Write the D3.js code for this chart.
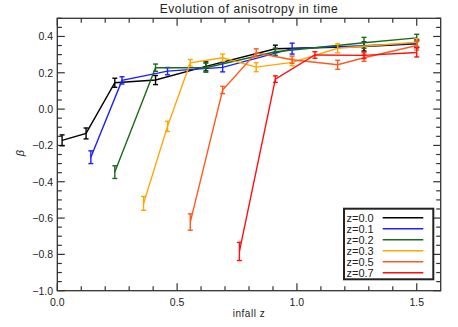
<!DOCTYPE html>
<html>
<head>
<meta charset="utf-8">
<script src="https://cdn.jsdelivr.net/npm/d3@7"></script>
<style>
  body { margin: 0; background: #fff; }
  svg { display: block; }
  text { font-family: "Liberation Sans", Arial, sans-serif; fill: #222; }
</style>
</head>
<body>
<script>
// infall z values, beta and error for each observed redshift
var z00_x = [0.02, 0.12, 0.24, 0.41, 0.62, 0.91, 1.28, 1.50];
var z00_y = [-0.172, -0.134, 0.145, 0.160, 0.235, 0.332, 0.345, 0.360];
var z00_e = [0.030, 0.030, 0.025, 0.025, 0.025, 0.020, 0.025, 0.020];

var z01_x = [0.14, 0.27, 0.46, 0.69, 0.98, 1.50];
var z01_y = [-0.265, 0.158, 0.209, 0.230, 0.333, 0.362];
var z01_e = [0.035, 0.020, 0.020, 0.025, 0.030, 0.020];

var z02_x = [0.24, 0.41, 0.62, 0.91, 1.28, 1.50];
var z02_y = [-0.347, 0.228, 0.228, 0.316, 0.365, 0.392];
var z02_e = [0.035, 0.020, 0.025, 0.020, 0.030, 0.020];

var z03_x = [0.36, 0.46, 0.555, 0.69, 0.83, 0.98, 1.17, 1.50];
var z03_y = [-0.519, -0.095, 0.255, 0.283, 0.231, 0.257, 0.335, 0.368];
var z03_e = [0.038, 0.028, 0.018, 0.020, 0.025, 0.018, 0.025, 0.020];

var z05_x = [0.555, 0.69, 0.83, 0.98, 1.17, 1.28, 1.50];
var z05_y = [-0.622, 0.105, 0.310, 0.272, 0.244, 0.283, 0.350];
var z05_e = [0.045, 0.020, 0.022, 0.020, 0.025, 0.020, 0.025];

var z07_x = [0.76, 0.91, 1.075, 1.28, 1.50];
var z07_y = [-0.784, 0.165, 0.298, 0.296, 0.312];
var z07_e = [0.050, 0.018, 0.018, 0.018, 0.025];

var labels = ["z=0.0", "z=0.1", "z=0.2", "z=0.3", "z=0.5", "z=0.7"];
var colors = ["#000000", "#1e1eff", "#1a6b1a", "#ffa500", "#ff5a1e", "#ff1010"];

var xTicks = [0.0, 0.5, 1.0, 1.5];
var yTicks = [-1.0, -0.8, -0.6, -0.4, -0.2, 0.0, 0.2, 0.4];

(function(){

var series = [
  {xs: z00_x, ys: z00_y, es: z00_e},
  {xs: z01_x, ys: z01_y, es: z01_e},
  {xs: z02_x, ys: z02_y, es: z02_e},
  {xs: z03_x, ys: z03_y, es: z03_e},
  {xs: z05_x, ys: z05_y, es: z05_e},
  {xs: z07_x, ys: z07_y, es: z07_e}
];

var width = 458, height = 327;
var pLeft = 57.3, pRight = 440.7, pTop = 18.3, pBottom = 290.7;

var svg = d3.select('body').append('svg')
  .attr('width', width)
  .attr('height', height);

var x = d3.scaleLinear().domain([0, 1.6]).range([pLeft, pRight]);
var y = d3.scaleLinear().domain([-1.0, 0.5]).range([pBottom, pTop]);

var axisColor = "#333";

// frame
svg.append('rect')
  .attr('x', pLeft).attr('y', pTop)
  .attr('width', pRight - pLeft).attr('height', pBottom - pTop)
  .attr('fill', 'none').attr('stroke', axisColor).attr('stroke-width', 1.3);

// ticks (inward, all four sides)
var xMinor = d3.range(0, 16).map(function(i){ return i / 10; });
var yMinor = d3.range(-20, 11).map(function(i){ return i / 20; });

var g = svg.append('g').attr('stroke', axisColor).attr('stroke-width', 1.2);
xMinor.forEach(function(v){
  var major = Math.abs(v * 2 - Math.round(v * 2)) < 1e-6;
  var len = major ? 7.5 : 4.5;
  g.append('line').attr('x1', x(v)).attr('x2', x(v)).attr('y1', pBottom).attr('y2', pBottom - len);
  g.append('line').attr('x1', x(v)).attr('x2', x(v)).attr('y1', pTop).attr('y2', pTop + len);
});
yMinor.forEach(function(v){
  var major = Math.abs(v * 5 - Math.round(v * 5)) < 1e-6;
  var len = major ? 7.5 : 4.5;
  g.append('line').attr('y1', y(v)).attr('y2', y(v)).attr('x1', pLeft).attr('x2', pLeft + len);
  g.append('line').attr('y1', y(v)).attr('y2', y(v)).attr('x1', pRight).attr('x2', pRight - len);
});

// tick labels
svg.selectAll('text.xt').data(xTicks).enter().append('text')
  .attr('class', 'xt')
  .attr('x', function(d){ return x(d); })
  .attr('y', 306)
  .attr('text-anchor', 'middle')
  .style('font-size', '10.5px')
  .text(function(d){ return d.toFixed(1); });

svg.selectAll('text.yt').data(yTicks).enter().append('text')
  .attr('class', 'yt')
  .attr('x', 53)
  .attr('y', function(d){ return y(d) + 3.8; })
  .attr('text-anchor', 'end')
  .style('font-size', '10.5px')
  .text(function(d){ return (d < 0 ? '\u2212' : '') + Math.abs(d).toFixed(1); });

// titles
svg.append('text')
  .attr('x', (pLeft + pRight) / 2).attr('y', 13)
  .attr('text-anchor', 'middle')
  .style('font-size', '12px')
  .style('letter-spacing', '0.6px')
  .text('Evolution of anisotropy in time');

svg.append('text')
  .attr('x', (pLeft + pRight) / 2).attr('y', 317)
  .attr('text-anchor', 'middle')
  .style('font-size', '10px')
  .style('letter-spacing', '0.5px')
  .text('infall z');

svg.append('text')
  .attr('transform', 'translate(24,153) rotate(-90)')
  .attr('text-anchor', 'middle')
  .style('font-size', '11px')
  .style('font-style', 'italic')
  .text('\u03b2');

// data
var line = d3.line()
  .x(function(d){ return x(d[0]); })
  .y(function(d){ return y(d[1]); });

series.forEach(function(s, i){
  var pts = s.xs.map(function(v, j){ return [v, s.ys[j], s.es[j]]; });
  var sg = svg.append('g').attr('stroke', colors[i]).attr('fill', 'none').attr('stroke-width', 1.4);
  sg.append('path').attr('d', line(pts));
  pts.forEach(function(p){
    var cx = x(p[0]), y0 = y(p[1] - p[2]), y1 = y(p[1] + p[2]);
    sg.append('line').attr('x1', cx).attr('x2', cx).attr('y1', y0).attr('y2', y1);
    sg.append('line').attr('x1', cx - 2.5).attr('x2', cx + 2.5).attr('y1', y0).attr('y2', y0);
    sg.append('line').attr('x1', cx - 2.5).attr('x2', cx + 2.5).attr('y1', y1).attr('y2', y1);
  });
});

// legend
var lx = 344, ly = 208.7, lw = 89.3, lh = 70.6;
svg.append('rect')
  .attr('x', lx).attr('y', ly).attr('width', lw).attr('height', lh)
  .attr('fill', '#fff').attr('stroke', '#222').attr('stroke-width', 2);

labels.forEach(function(lab, i){
  var cy = 217.7 + i * 11;
  svg.append('text')
    .attr('x', 346.5).attr('y', cy + 3.8)
    .style('font-size', '11px')
    .text(lab);
  svg.append('line')
    .attr('x1', 382.7).attr('x2', 423.3).attr('y1', cy).attr('y2', cy)
    .attr('stroke', colors[i]).attr('stroke-width', 1.4);
});

})();
</script>
</body>
</html>
